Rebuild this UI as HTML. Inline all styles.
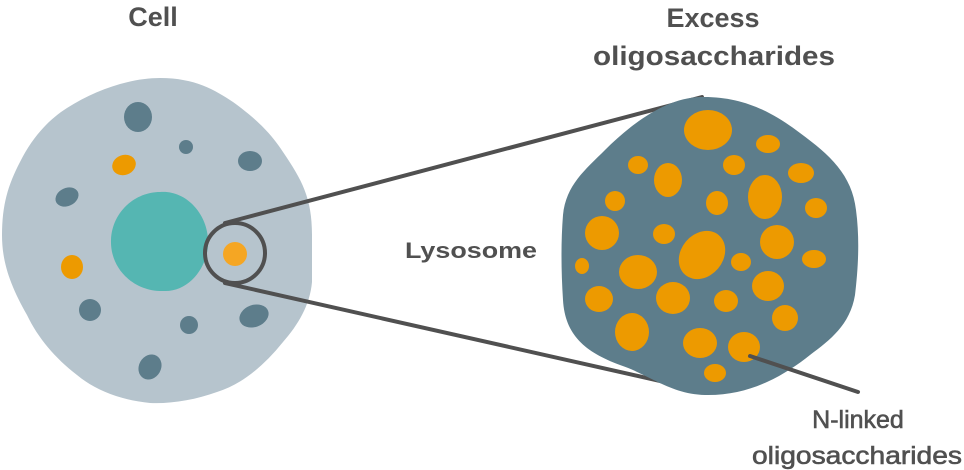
<!DOCTYPE html>
<html><head><meta charset="utf-8"><style>
html,body{margin:0;padding:0;background:#fff;}
svg{display:block}
text{font-family:"Liberation Sans",sans-serif;fill:#505050;}
</style></head><body>
<svg width="964" height="470" viewBox="0 0 964 470" xmlns="http://www.w3.org/2000/svg">
<!-- cell -->
<path d="M160,78 C195,78 215,90 233,102 C258,120 272,135 283,152 C302,180 312,198 312,235 L312,282 C310,305 298,325 283,342 C262,368 240,385 217,392 C195,400 170,404 150,403 C120,400 95,390 77,375 C55,358 38,338 27,315 C10,285 2,262 2,235 C2,205 8,185 20,162 C32,138 48,120 67,108 C95,90 130,78 160,78 Z" fill="#b6c4cd"/>
<path d="M160,192 C185,190 206,212 208,238 C210,265 190,292 164,291 C135,292 110,270 111,240 C112,212 135,192 160,192 Z" fill="#55b6b2"/>
<g fill="#5d7d8b">
<ellipse cx="138" cy="117" rx="14" ry="15"/>
<circle cx="186" cy="147" r="7"/>
<ellipse cx="250" cy="161" rx="12" ry="10"/>
<ellipse cx="67" cy="197" rx="12" ry="9" transform="rotate(-25 67 197)"/>
<ellipse cx="90" cy="310" rx="11" ry="11"/>
<circle cx="189" cy="325" r="9"/>
<ellipse cx="254" cy="316" rx="15" ry="11" transform="rotate(-20 254 316)"/>
<ellipse cx="150" cy="367" rx="11" ry="13" transform="rotate(30 150 367)"/>
</g>
<g fill="#ed9a00">
<ellipse cx="124" cy="165" rx="12" ry="10" transform="rotate(-20 124 165)"/>
<ellipse cx="72" cy="267" rx="11" ry="12"/>
</g>
<ellipse cx="235" cy="254" rx="12" ry="12" fill="#f5a623"/>
<!-- zoom lines -->
<g stroke="#505050" stroke-width="4" fill="none" stroke-linecap="round">
<ellipse cx="235" cy="253" rx="30" ry="30"/>
<line x1="225" y1="223" x2="702" y2="97"/>
<line x1="225" y1="283" x2="700" y2="390"/>
</g>
<!-- lysosome -->
<path d="M700,97 C740,96 770,110 800,133 C830,155 852,175 856,210 C860,240 858,270 855,295 C850,325 830,340 810,355 C785,375 750,396 705,395 C670,394 650,375 620,365 C585,352 565,335 563,300 C561,270 561,240 563,215 C566,185 585,170 605,150 C630,125 665,98 700,97 Z" fill="#5d7d8b"/>
<g fill="#ed9a00">
<ellipse cx="708" cy="130" rx="24" ry="20"/>
<ellipse cx="768" cy="144" rx="12" ry="9"/>
<ellipse cx="638" cy="165" rx="10" ry="9"/>
<ellipse cx="668" cy="180" rx="14" ry="17"/>
<ellipse cx="734" cy="165" rx="11" ry="10"/>
<ellipse cx="801" cy="173" rx="13" ry="10"/>
<ellipse cx="765" cy="197" rx="17" ry="22"/>
<ellipse cx="615" cy="201" rx="10" ry="10"/>
<ellipse cx="717" cy="203" rx="11" ry="12"/>
<ellipse cx="816" cy="208" rx="11" ry="10"/>
<ellipse cx="602" cy="233" rx="17" ry="17"/>
<ellipse cx="664" cy="234" rx="11" ry="10"/>
<ellipse cx="702" cy="255" rx="21" ry="26" transform="rotate(40 702 255)"/>
<ellipse cx="777" cy="242" rx="17" ry="17"/>
<ellipse cx="582" cy="266" rx="7" ry="8"/>
<ellipse cx="638" cy="272" rx="19" ry="17"/>
<ellipse cx="741" cy="262" rx="10" ry="9"/>
<ellipse cx="814" cy="259" rx="12" ry="9"/>
<ellipse cx="768" cy="286" rx="16" ry="15"/>
<ellipse cx="599" cy="299" rx="14" ry="13"/>
<ellipse cx="673" cy="298" rx="17" ry="16"/>
<ellipse cx="726" cy="301" rx="12" ry="11"/>
<ellipse cx="785" cy="318" rx="13" ry="13"/>
<ellipse cx="632" cy="332" rx="17" ry="19"/>
<ellipse cx="700" cy="343" rx="17" ry="15"/>
<ellipse cx="744" cy="347" rx="16" ry="15"/>
<ellipse cx="715" cy="373" rx="11" ry="9"/>
</g>
<line x1="750" y1="356" x2="858" y2="392" stroke="#505050" stroke-width="4" stroke-linecap="round"/>
<!-- labels -->
<text x="153" y="26" font-size="27" font-weight="bold" text-anchor="middle">Cell</text>
<text x="713" y="27" font-size="27" font-weight="bold" text-anchor="middle">Excess</text>
<text x="593" y="65" font-size="27" font-weight="bold" textLength="242" lengthAdjust="spacingAndGlyphs">oligosaccharides</text>
<text x="405" y="258" font-size="22" font-weight="bold" textLength="132" lengthAdjust="spacingAndGlyphs">Lysosome</text>
<text x="858" y="428" font-size="25" text-anchor="middle" stroke="#505050" stroke-width="0.6">N-linked</text>
<text x="752" y="464" font-size="25" stroke="#505050" stroke-width="0.6" textLength="210" lengthAdjust="spacingAndGlyphs">oligosaccharides</text>
</svg>
</body></html>
